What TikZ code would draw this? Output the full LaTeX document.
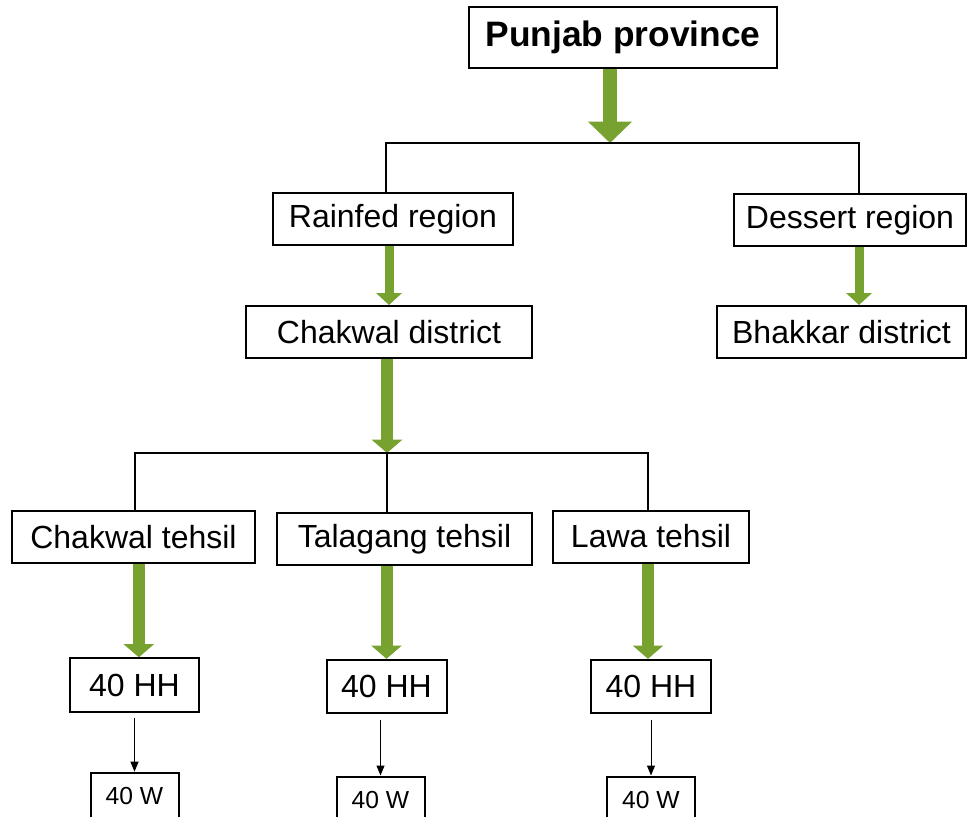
\documentclass[tikz,border=0pt]{standalone}
\usepackage{fontspec}
\setmainfont{Liberation Sans}
\usepackage{xcolor}
\definecolor{ArrowGreen}{HTML}{78A22F}
\usepackage{tikz}
\usetikzlibrary{arrows.meta, positioning}
\tikzset{
  % Box styles
  titlebox/.style={rectangle, draw=black, fill=white, line width=1.5pt, minimum width=231pt, minimum height=45.75pt, inner sep=0pt, font=\fontsize{26.5}{30}\selectfont\bfseries},
  levelbox/.style={rectangle, draw=black, fill=white, line width=1.5pt, minimum height=39pt, inner sep=0pt, font=\fontsize{24}{28}\selectfont},
  hhbox/.style={levelbox, minimum width=90pt, minimum height=40pt},
  wbox/.style={rectangle, draw=black, fill=white, line width=1.5pt, minimum width=66pt, minimum height=34.5pt, inner sep=0pt, font=\fontsize{18.5}{22}\selectfont},
  % Arrow styles
  bigarrow/.style={-{Triangle[width=32pt,length=16pt]}, line width=10.5pt, ArrowGreen},
  greenarrow/.style={-{Triangle[width=22.5pt,length=10pt]}, line width=9pt, ArrowGreen},
  smallarrow/.style={-{Triangle[width=19pt,length=9pt]}, line width=6.75pt, ArrowGreen},
  busline/.style={line width=1.5pt, black},
  thinarrow/.style={-{Triangle[width=6pt,length=7.5pt]}, line width=0.75pt, black, shorten <=4pt}
}
\begin{document}
\begin{tikzpicture}[x=0.75pt, y=-0.75pt]
  \clip (0,0) rectangle (969,816);
  \fill[white] (0,0) rectangle (969,816);

  % levels
  \node[titlebox] (prov) at (623,37.5) {Punjab province};
  \node[levelbox, minimum width=180pt] (rain) at (393,219) {Rainfed region};
  \node[levelbox, minimum width=174pt] (dess) at (850,220.5) {Dessert region};
  \node[levelbox, minimum width=214.5pt] (chakd) at (389,332) {Chakwal district};
  \node[levelbox, minimum width=186.75pt] (bhak) at (841.5,332) {Bhakkar district};
  \node[levelbox, minimum width=182.25pt] (chakt) at (133.5,537) {Chakwal tehsil};
  \node[levelbox, minimum width=191.25pt] (tala) at (404.5,539) {Talagang tehsil};
  \node[levelbox, minimum width=147pt] (lawa) at (651,536.5) {Lawa tehsil};

  % samples
  \node[hhbox, minimum width=96.75pt] (hh1) at (134.5,685) {40 HH};
  \node[hhbox] (hh2) at (386.5,686.5) {40 HH};
  \node[hhbox] (hh3) at (651,686.5) {40 HH};
  \node[wbox, below=44.25pt of hh1] (w1) {40 W};
  \node[wbox, below=46pt of hh2.south west, anchor=north west, xshift=7.5pt] (w2) {40 W};
  \node[wbox, below=46pt of hh3] (w3) {40 W};

  % junctions
  \coordinate (b1) at (610,143);
  \coordinate (b1l) at (386,143);
  \coordinate (b1r) at (859,143);
  \coordinate (b2) at (387,453);
  \coordinate (b2l) at (135,453);
  \coordinate (b2r) at (648,453);

  \draw[bigarrow] (prov.south -| b1) -- (b1);
  \draw[busline] (rain.north -| b1l) -- (b1l) -- (b1r) -- (dess.north -| b1r);
  \draw[smallarrow] (rain.south -| chakd.north) -- (chakd.north);
  \draw[smallarrow] (dess.south -| b1r) -- (bhak.north -| b1r);

  \draw[greenarrow] (chakd.south -| b2) -- (b2);
  \draw[busline] (chakt.north -| b2l) -- (b2l) -- (b2r) -- (lawa.north -| b2r);
  \draw[busline] (b2) -- (tala.north -| b2);

  \draw[greenarrow] ([xshift=4pt]chakt.south) -- ([xshift=4pt]chakt.south |- hh1.north);
  \draw[greenarrow] (tala.south -| hh2.north) -- (hh2.north);
  \draw[greenarrow] (lawa.south -| b2r) -- (hh3.north -| b2r);

  \draw[thinarrow] (hh1.south) -- (hh1.south |- w1.north);
  \draw[thinarrow] ([xshift=-4.5pt]hh2.south) -- ([xshift=-4.5pt]hh2.south |- w2.north);
  \draw[thinarrow] (hh3.south) -- (hh3.south |- w3.north);
\end{tikzpicture}
\end{document}
